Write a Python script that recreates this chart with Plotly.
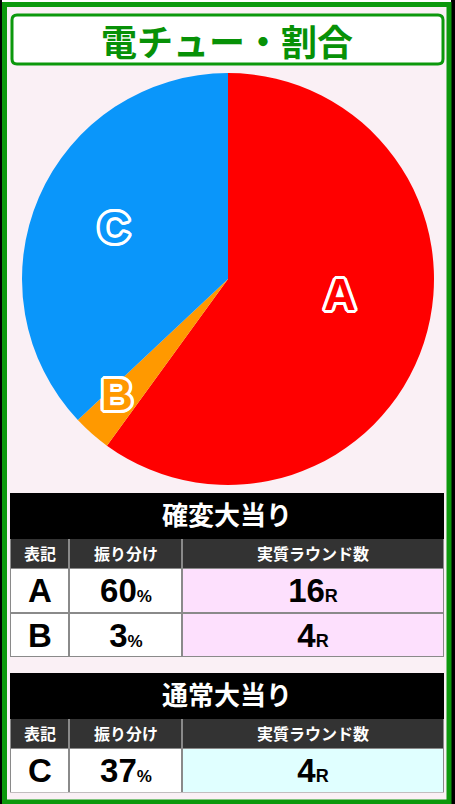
import math
import plotly.graph_objects as go

W, H = 455, 804

# ---- data ----
title_text = "電チュー・割合"
slice_labels = ["A", "B", "C"]
slice_values = [60, 3, 37]
slice_colors = ["#FF0000", "#FF9900", "#0A96FA"]

table_headers = ["表記", "振り分け", "実質ラウンド数"]

kakuhen_title = "確変大当り"
kakuhen_marks = ["A", "B"]
kakuhen_share = [60, 3]
kakuhen_rounds = [16, 4]

tsujo_title = "通常大当り"
tsujo_marks = ["C"]
tsujo_share = [37]
tsujo_rounds = [4]

# ---- layout constants (pixels) ----
def px(x):
    return x / W

def py(y):
    return 1 - y / H

JP = "Noto Sans CJK JP"
LAT = "Liberation Sans, Arial, Noto Sans CJK JP"
GREEN = "#0C980C"
PINK_BG = "#FAF0F5"
TABLE_X = [10, 444]
COL_EDGES = [10, 69, 182, 444]
TITLE_H, HEAD_H, ROW_H = 46, 29, 44.5

fig = go.Figure()

# pie
fig.add_trace(go.Pie(
    labels=slice_labels, values=slice_values,
    marker=dict(colors=slice_colors, line=dict(width=0)),
    sort=False, direction="clockwise", rotation=0,
    textinfo="none", hoverinfo="label+percent", showlegend=False,
    domain=dict(x=[px(22), px(434)], y=[py(485), py(73)]),
))

def pct(v):
    return f"<b>{v}<span style='font-size:17px'>%</span></b>"

def rnd(v):
    return f"<b>{v}<span style='font-size:18px'>R</span></b>"

def add_table(idx, title, marks, share, rounds, top, body_color):
    xa = "x" if idx == 1 else f"x{idx}"
    ya = "y" if idx == 1 else f"y{idx}"
    n = len(marks)
    y_title = [top, top + TITLE_H]
    y_head = [top + TITLE_H, top + TITLE_H + HEAD_H]
    y_body = [top + TITLE_H + HEAD_H + ROW_H * i for i in range(n + 1)]
    bottom = y_body[-1]
    # title bar
    fig.add_trace(go.Heatmap(
        x=TABLE_X, y=y_title, z=[[0]], text=[[f"<b>{title}</b>"]], texttemplate="%{text}",
        textfont=dict(family=JP, size=26, color="white", weight=900),
        colorscale=[[0, "black"], [1, "black"]], showscale=False, hoverinfo="skip",
        xaxis=xa, yaxis=ya,
    ))
    # header row
    fig.add_trace(go.Heatmap(
        x=COL_EDGES, y=y_head, z=[[0, 0, 0]], text=[[f"<b>{h}</b>" for h in table_headers]],
        texttemplate="%{text}", textfont=dict(family=JP, size=16, color="white"),
        colorscale=[[0, "#333333"], [1, "#333333"]], showscale=False, hoverinfo="skip",
        xgap=2, ygap=0, xaxis=xa, yaxis=ya,
    ))
    # body rows
    fig.add_trace(go.Heatmap(
        x=COL_EDGES, y=y_body,
        z=[[0, 0, 1] for _ in range(n)],
        text=[[f"<b>{m}</b>", pct(s), rnd(r)] for m, s, r in zip(marks, share, rounds)],
        texttemplate="%{text}", textfont=dict(family=LAT, size=33, color="black"),
        colorscale=[[0, "white"], [1, body_color]], zmin=0, zmax=1, showscale=False,
        hoverinfo="skip", xgap=2, ygap=2, xaxis=xa, yaxis=ya,
    ))
    axis_common = dict(visible=False, fixedrange=True, showgrid=False, zeroline=False)
    fig.update_layout(**{
        ("xaxis" if idx == 1 else f"xaxis{idx}"): dict(
            domain=[px(TABLE_X[0]), px(TABLE_X[1])], range=TABLE_X, anchor=ya, **axis_common),
        ("yaxis" if idx == 1 else f"yaxis{idx}"): dict(
            domain=[py(bottom), py(top)], range=[bottom, top], anchor=xa, **axis_common),
    })

add_table(1, kakuhen_title, kakuhen_marks, kakuhen_share, kakuhen_rounds, 493, "#FDE0FD")
add_table(2, tsujo_title, tsujo_marks, tsujo_share, tsujo_rounds, 673, "#E0FFFF")

shapes = []
# outer frame: thin black/white edges + green border line
shapes.append(dict(type="rect", xref="paper", yref="paper", x0=0, x1=px(2), y0=0, y1=1,
                   fillcolor="black", line=dict(width=0), layer="below"))
shapes.append(dict(type="rect", xref="paper", yref="paper", x0=px(451), x1=1, y0=0, y1=1,
                   fillcolor="black", line=dict(width=0), layer="below"))
shapes.append(dict(type="rect", xref="paper", yref="paper", x0=px(2), x1=px(451), y0=py(2), y1=1,
                   fillcolor="white", line=dict(width=0), layer="below"))
shapes.append(dict(type="rect", xref="paper", yref="paper", x0=px(4.5), x1=px(449), y0=py(802), y1=py(4.5),
                   line=dict(color=GREEN, width=5), layer="below"))

# rounded title box
def rrect(x0, y0, x1, y1, r):
    return (f"M {px(x0+r)},{py(y0)} L {px(x1-r)},{py(y0)} Q {px(x1)},{py(y0)} {px(x1)},{py(y0+r)} "
            f"L {px(x1)},{py(y1-r)} Q {px(x1)},{py(y1)} {px(x1-r)},{py(y1)} "
            f"L {px(x0+r)},{py(y1)} Q {px(x0)},{py(y1)} {px(x0)},{py(y1-r)} "
            f"L {px(x0)},{py(y0+r)} Q {px(x0)},{py(y0)} {px(x0+r)},{py(y0)} Z")

shapes.append(dict(type="path", xref="paper", yref="paper", path=rrect(12, 15, 443, 64, 5),
                   fillcolor="white", line=dict(color=GREEN, width=3), layer="below"))

def ann(text, x, y, font):
    return dict(text=text, x=px(x), y=py(y), xref="paper", yref="paper",
                xanchor="center", yanchor="middle", showarrow=False, font=font)

annotations = [
    ann(f"<b>{title_text}</b>", 227, 40, dict(family=JP, size=36, color="#079107", weight=900)),
]

# slice labels: outlined letters placed around each slice's mid-angle
cx, cy, R = 228, 279, 206
label_style = {"A": (-10, 0.55), "B": (2.5, 0.78), "C": (1.0, 0.61)}
outline = ", ".join(f"{dx}px {dy}px 0 white" for dx, dy in
                    [(3, 0), (-3, 0), (0, 3), (0, -3), (2, 2), (-2, -2), (2, -2), (-2, 2),
                     (3, 1), (3, -1), (-3, 1), (-3, -1), (1, 3), (-1, 3), (1, -3), (-1, -3)])
total = sum(slice_values)
cum = 0
for lab, val, col in zip(slice_labels, slice_values, slice_colors):
    mid = (cum + val / 2) / total * 360
    cum += val
    dang, rf = label_style[lab]
    a = math.radians(mid + dang)
    x = cx + R * rf * math.sin(a)
    y = cy - R * rf * math.cos(a)
    annotations.append(ann(f"<b>{lab}</b>", x, y,
                           dict(family=LAT, size=44, color=col, shadow=outline)))

fig.update_layout(
    width=W, height=H, margin=dict(l=0, r=0, t=0, b=0),
    paper_bgcolor=PINK_BG, plot_bgcolor="#8A8A8A",
    shapes=shapes, annotations=annotations, showlegend=False,
)

fig.write_html("out.html", config={"displayModeBar": False},
               post_script="document.body.style.margin='0';document.body.style.overflow='hidden';")
